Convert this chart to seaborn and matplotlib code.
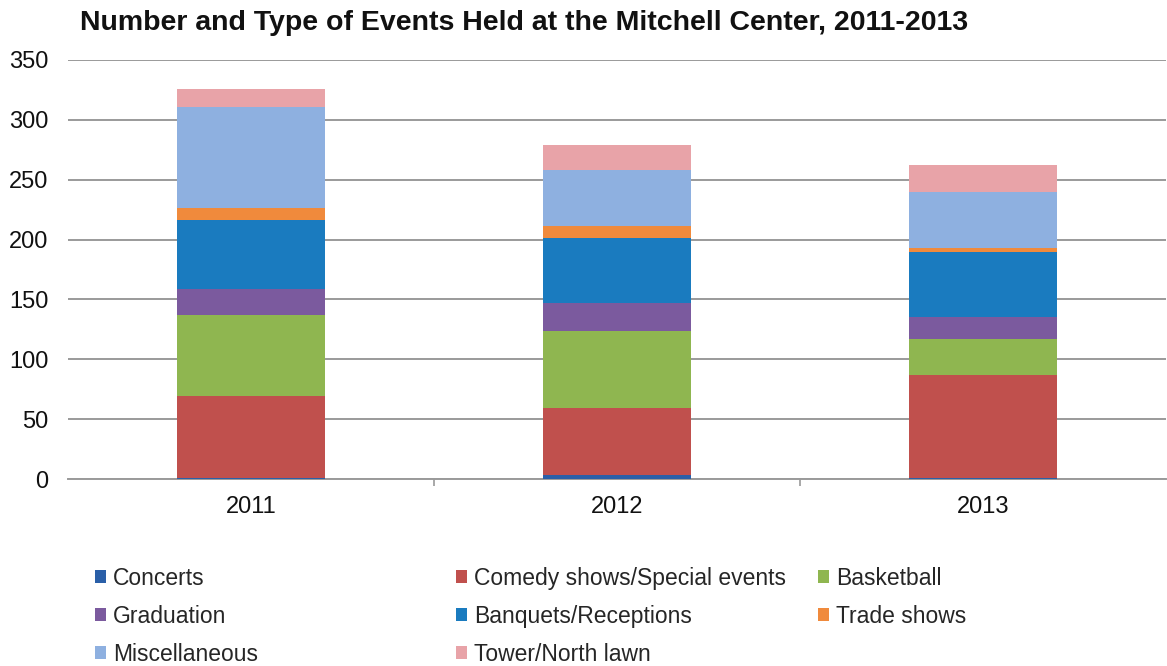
import numpy as np
import pandas as pd
import matplotlib
matplotlib.use("Agg")
import matplotlib.pyplot as plt
import seaborn as sns
from matplotlib.patches import Patch

years = ["2011", "2012", "2013"]
categories = ["Concerts", "Comedy shows/Special events", "Basketball", "Graduation",
              "Banquets/Receptions", "Trade shows", "Miscellaneous", "Tower/North lawn"]
concerts = [1, 3, 1]
comedy = [68, 56, 86]
basketball = [68, 65, 30]
graduation = [22, 23, 18]
banquets = [57, 54, 55]
trade = [10, 10, 3]
misc = [85, 47, 47]
tower = [15, 21, 22]
series = [concerts, comedy, basketball, graduation, banquets, trade, misc, tower]
colors = ["#2a5fa8", "#c0504d", "#8fb650", "#7b5a9e", "#1a7bbf", "#f08a3c", "#8eb0e0", "#e8a3a8"]
yticks = [0, 50, 100, 150, 200, 250, 300, 350]

sns.set_theme(style="white")
plt.rcParams['font.family'] = ['Liberation Sans', 'DejaVu Sans']

fig = plt.figure(figsize=(11.67, 6.66), dpi=100)
ax = fig.add_axes([68/1167, 1 - 479/666, 1098/1167, (479 - 60)/666])

cum = np.cumsum(np.array(series), axis=0)
# draw from top layer down so each bar covers the ones beneath
for i in range(len(series) - 1, -1, -1):
    df = pd.DataFrame({"year": years, "value": cum[i]})
    sns.barplot(data=df, x="year", y="value", color=colors[i], width=0.405,
                saturation=1, ax=ax, linewidth=0, zorder=3)

ax.set_ylim(0, 350)
ax.set_xlim(-0.5, 2.5)
ax.set_yticks(yticks)
ax.set_yticklabels([str(t) for t in yticks], fontsize=17, color="#111111")
ax.tick_params(axis="x", labelsize=17, colors="#111111", length=0, pad=12)
ax.tick_params(axis="y", length=0, pad=14)
ax.set_xlabel("")
ax.set_ylabel("")
ax.yaxis.grid(True, color="#9a9a9a", linewidth=1.4, zorder=0)
ax.set_axisbelow(True)
for s in ["top", "right", "left"]:
    ax.spines[s].set_visible(False)
ax.spines["bottom"].set_color("#9a9a9a")
ax.spines["bottom"].set_linewidth(1.4)
ax.set_xticks([0.5, 1.5], minor=True)
ax.tick_params(axis="x", which="minor", length=5, color="#9a9a9a", width=1.2, direction="out", bottom=True)

fig.text(80/1167, 1 - 23/666, "Number and Type of Events Held at the Mitchell Center, 2011-2013",
         fontsize=20.5, fontweight="bold", va="center", ha="left", color="#111111")

cols = [[0, 3, 6], [1, 4, 7], [2, 5]]
xs = [95, 456, 818]
for col, x in zip(cols, xs):
    handles = [Patch(facecolor=colors[i], edgecolor="none") for i in col]
    labels = [categories[i] for i in col]
    fig.legend(handles, labels, loc="upper left", bbox_to_anchor=(x/1167, 1 - 567/666),
               frameon=False, fontsize=16.5, handlelength=0.5, handleheight=0.5,
               handletextpad=0.3, labelspacing=0.65, borderaxespad=0, borderpad=0)

fig.savefig("out.png", dpi=100)
